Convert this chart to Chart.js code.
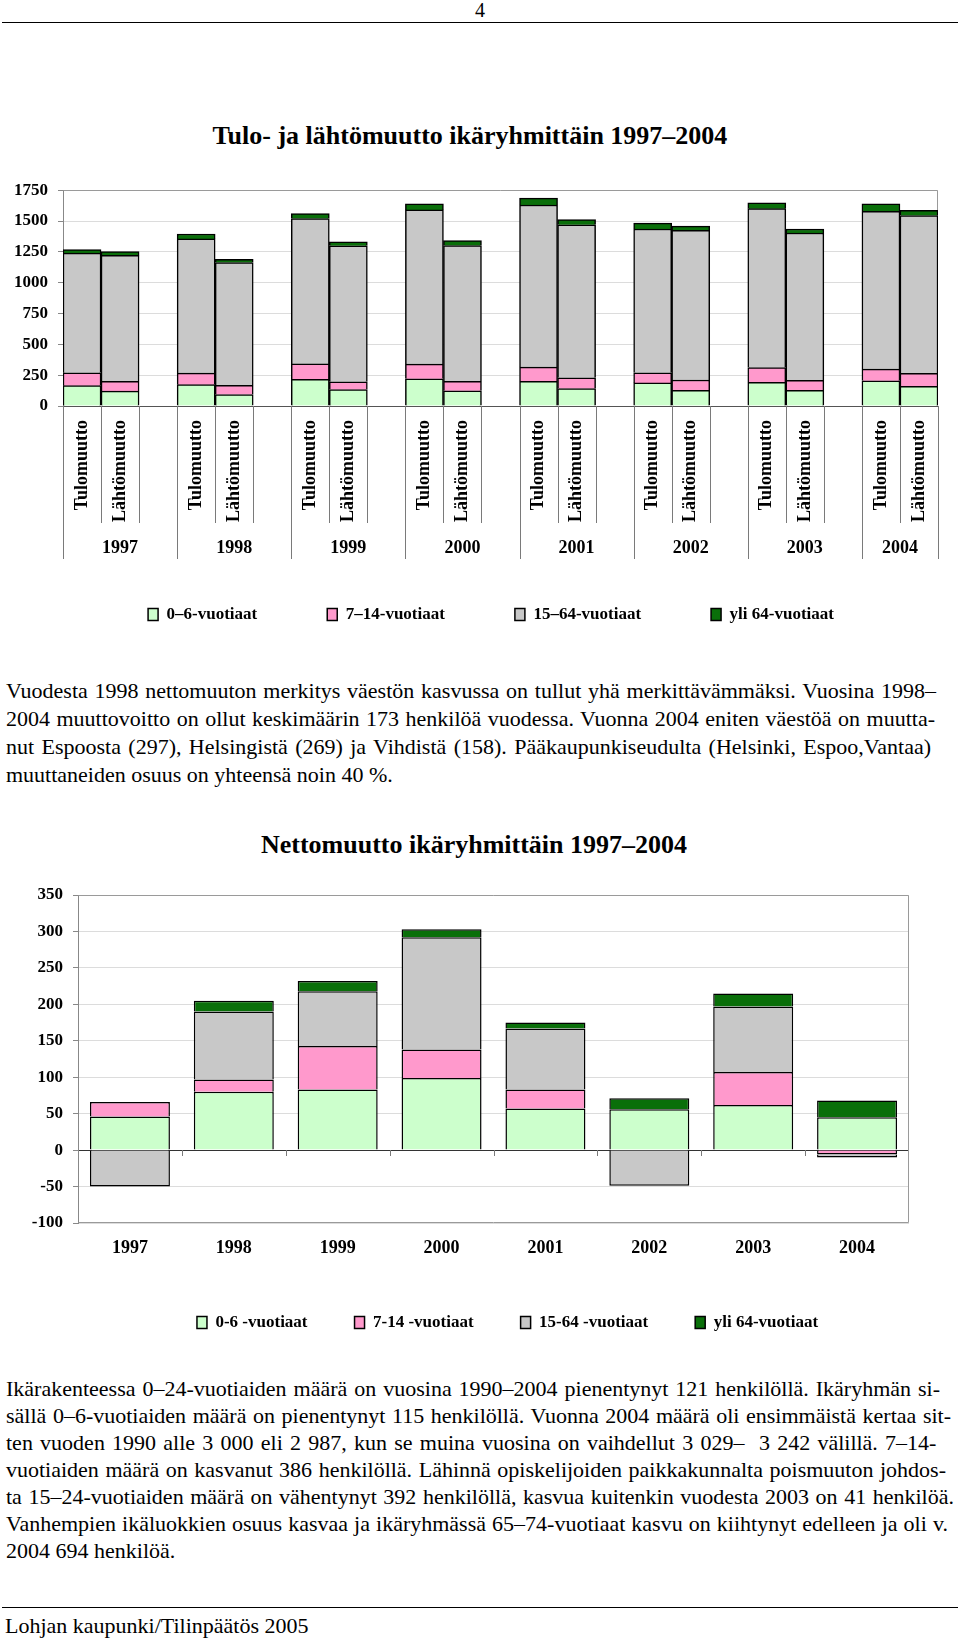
<!DOCTYPE html>
<html lang="fi">
<head>
<meta charset="utf-8">
<title>Tulo- ja lähtömuutto ikäryhmittäin 1997–2004</title>
<script src="https://cdn.jsdelivr.net/npm/chart.js@4.4.1/dist/chart.umd.min.js"></script>
<style>
  html, body { margin: 0; padding: 0; background: #fff; }
  #page { position: relative; width: 960px; height: 1639px; overflow: hidden;
          font-family: 'Liberation Serif', 'Times New Roman', serif; color: #000; }
  #page > * { position: absolute; }
  .pageno { left: 0; width: 960px; top: 0; font-size: 20px; line-height: 20px; text-align: center; }
  .rule { left: 2px; width: 956px; height: 0; border-top: 1.5px solid #000; }
  .title { left: 0; font-weight: bold; text-align: center; white-space: nowrap; line-height: 28px; }
  .ln { left: 6px; font-size: 22px; line-height: 28px; white-space: nowrap; }
  .footer { left: 5px; top: 1612px; font-size: 22px; line-height: 28px; }
  canvas { left: 0; }
</style>
</head>
<body>
<div id="page">
  <div class="pageno">4</div>
  <div class="rule" style="top:22px"></div>

  <div class="title" style="top:122px; width:940px; font-size:26px">Tulo- ja lähtömuutto ikäryhmittäin 1997–2004</div>
  <canvas id="chart1" width="960" height="463" style="top:170px"></canvas>

  <div class="ln" style="top:677px" data-w="930">Vuodesta 1998 nettomuuton merkitys väestön kasvussa on tullut yhä merkittävämmäksi. Vuosina 1998–</div>
  <div class="ln" style="top:705px" data-w="929">2004 muuttovoitto on ollut keskimäärin 173 henkilöä vuodessa. Vuonna 2004 eniten väestöä on muutta-</div>
  <div class="ln" style="top:733px" data-w="925">nut Espoosta (297), Helsingistä (269) ja Vihdistä (158). Pääkaupunkiseudulta (Helsinki, Espoo,Vantaa)</div>
  <div class="ln" style="top:761px">muuttaneiden osuus on yhteensä noin 40 %.</div>

  <div class="title" style="top:831px; width:948px; font-size:26px">Nettomuutto ikäryhmittäin 1997–2004</div>
  <canvas id="chart2" width="960" height="471" style="top:870px"></canvas>

  <div class="ln" style="top:1375px" data-w="934">Ikärakenteessa 0–24-vuotiaiden määrä on vuosina 1990–2004 pienentynyt 121 henkilöllä. Ikäryhmän si-</div>
  <div class="ln" style="top:1402px" data-w="945">sällä 0–6-vuotiaiden määrä on pienentynyt 115 henkilöllä. Vuonna 2004 määrä oli ensimmäistä kertaa sit-</div>
  <div class="ln" style="top:1429px" data-w="920">ten vuoden 1990 alle 3&nbsp;000 eli 2&nbsp;987, kun se muina vuosina on vaihdellut 3&nbsp;029–&nbsp;&nbsp;3&nbsp;242 välillä. 7–14-</div>
  <div class="ln" style="top:1456px" data-w="940">vuotiaiden määrä on kasvanut 386 henkilöllä. Lähinnä opiskelijoiden paikkakunnalta poismuuton johdos-</div>
  <div class="ln" style="top:1483px" data-w="948">ta 15–24-vuotiaiden määrä on vähentynyt 392 henkilöllä, kasvua kuitenkin vuodesta 2003 on 41 henkilöä.</div>
  <div class="ln" style="top:1510px" data-w="942">Vanhempien ikäluokkien osuus kasvaa ja ikäryhmässä 65–74-vuotiaat kasvu on kiihtynyt edelleen ja oli v.</div>
  <div class="ln" style="top:1537px">2004 694 henkilöä.</div>

  <div class="rule" style="top:1607px"></div>
  <div class="footer">Lohjan kaupunki/Tilinpäätös 2005</div>
</div>

<script>
"use strict";
// Vuodet ja sarjat
const years = ['1997', '1998', '1999', '2000', '2001', '2002', '2003', '2004'];
const moveTypes = ['Tulomuutto', 'Lähtömuutto'];
const ageLabels1 = ['0–6-vuotiaat', '7–14-vuotiaat', '15–64-vuotiaat', 'yli 64-vuotiaat'];
const ageLabels2 = ['0-6 -vuotiaat', '7-14 -vuotiaat', '15-64 -vuotiaat', 'yli 64-vuotiaat'];
const ageColors = ['#ccffcc', '#ff99cc', '#c8c8c8', '#0a6f0a'];

// Tulomuutto ikäryhmittäin
const tulo06 = [165, 173, 216, 221, 200, 187, 192, 205];
const tulo714 = [104, 94, 125, 118, 115, 82, 120, 94];
const tulo1564 = [971, 1088, 1179, 1251, 1315, 1166, 1288, 1280];
const tulo65 = [29, 40, 40, 50, 56, 48, 48, 61];
// Lähtömuutto ikäryhmittäin
const lahto06 = [120, 93, 133, 123, 141, 128, 128, 160];
const lahto714 = [80, 75, 64, 77, 88, 83, 80, 104];
const lahto1564 = [1021, 995, 1102, 1101, 1240, 1213, 1195, 1280];
const lahto65 = [32, 26, 32, 40, 43, 35, 32, 43];
// Nettomuutto ikäryhmittäin
const netto06 = [46, 80, 83, 99, 57, 56, 62, 45];
const netto714 = [20, 17, 60, 39, 26, 0, 45, -6];
const netto1564 = [-50, 93, 75, 154, 84, -49, 90, -4];
const netto65 = [0, 15, 14, 11, 8, 15, 18, 23];

const yTicks1 = [0, 250, 500, 750, 1000, 1250, 1500, 1750];
const yTicks2 = [-100, -50, 0, 50, 100, 150, 200, 250, 300, 350];

Chart.defaults.font.family = "'Liberation Serif', 'Times New Roman', serif";
Chart.defaults.color = '#000';
Chart.defaults.animation = false;

// Tasaa tekstirivit annettuun leveyteen sanavälejä säätämällä
document.querySelectorAll('.ln[data-w]').forEach(el => {
    const target = parseFloat(el.dataset.w);
    const natural = el.getBoundingClientRect().width;
    const spaces = (el.textContent.match(/ /g) || []).length;
    if (spaces > 0) el.style.wordSpacing = ((target - natural) / spaces) + 'px';
});

// Paikat: Tulo, Lähtö ja tyhjä väli jokaiselle vuodelle (paitsi viimeiselle)
const slotLabels = [];
years.forEach((y, i) => {
    moveTypes.forEach(m => slotLabels.push(m));
    if (i < years.length - 1) slotLabels.push('');
});
function interleave(tulo, lahto) {
    const out = [];
    years.forEach((y, i) => {
        out.push(tulo[i], lahto[i]);
        if (i < years.length - 1) out.push(null);
    });
    return out;
}

function makeFrame(sides) {
    return {
        id: 'frame',
        beforeDatasetsDraw(chart) {
            const { ctx, chartArea: a } = chart;
            const l = Math.round(a.left) + 0.5, r = Math.round(a.right) - 0.5;
            const t = Math.round(a.top) + 0.5, b = Math.round(a.bottom) - 0.5;
            ctx.save();
            ctx.strokeStyle = '#9a9a9a';
            ctx.lineWidth = 1;
            ctx.beginPath();
            if (sides.includes('top')) { ctx.moveTo(l, t); ctx.lineTo(r, t); }
            if (sides.includes('right')) { ctx.moveTo(r, t); ctx.lineTo(r, b); }
            if (sides.includes('bottom')) { ctx.moveTo(l, b); ctx.lineTo(r, b); }
            ctx.stroke();
            ctx.restore();
        }
    };
}

function legendShift(dx) {
    return {
        id: 'legendShift',
        afterLayout(chart) {
            chart.legend.left += dx;
            chart.legend.right += dx;
        }
    };
}

// Vuosiryhmien jakoviivat ja vuosiluvut x-akselin alle
const yearGroups = {
    id: 'yearGroups',
    afterDraw(chart) {
        const { ctx, chartArea, scales: { x } } = chart;
        const n = slotLabels.length;
        const w = (x.right - x.left) / n;
        ctx.save();
        ctx.strokeStyle = '#7a7a7a';
        ctx.lineWidth = 1;
        for (let i = 0; i <= n; i++) {
            const px = Math.round(x.left + i * w) + 0.5;
            const long = i % 3 === 0 || i === n;
            ctx.beginPath();
            ctx.moveTo(px, chartArea.bottom);
            ctx.lineTo(px, chartArea.bottom + (long ? 153 : 117));
            ctx.stroke();
        }
        ctx.font = "bold 18px 'Liberation Serif'";
        ctx.textAlign = 'center';
        ctx.textBaseline = 'middle';
        ctx.fillStyle = '#000';
        years.forEach((yr, g) => {
            const a = x.left + 3 * g * w;
            const b = x.left + Math.min(3 * g + 3, n) * w;
            ctx.fillText(yr, (a + b) / 2, chartArea.bottom + 142);
        });
        ctx.restore();
    }
};

// Pienet jakoviivat nollatasolle
const zeroTicks = {
    id: 'zeroTicks',
    afterDatasetsDraw(chart) {
        const { ctx, scales: { x, y } } = chart;
        const y0 = Math.round(y.getPixelForValue(0));
        const n = years.length;
        const w = (x.right - x.left) / n;
        ctx.save();
        ctx.strokeStyle = '#7a7a7a';
        ctx.lineWidth = 1;
        for (let i = 1; i < n; i++) {
            const px = Math.round(x.left + i * w) + 0.5;
            ctx.beginPath();
            ctx.moveTo(px, y0);
            ctx.lineTo(px, y0 + 6);
            ctx.stroke();
        }
        ctx.restore();
    }
};

const legendFont = { size: 17, weight: 'bold' };
const plainNumber = v => String(v);

new Chart(document.getElementById('chart1'), {
    type: 'bar',
    data: {
        labels: slotLabels,
        datasets: [
            { label: ageLabels1[0], data: interleave(tulo06, lahto06) },
            { label: ageLabels1[1], data: interleave(tulo714, lahto714) },
            { label: ageLabels1[2], data: interleave(tulo1564, lahto1564) },
            { label: ageLabels1[3], data: interleave(tulo65, lahto65) }
        ].map((d, i) => Object.assign(d, {
            backgroundColor: ageColors[i],
            borderColor: '#000',
            borderWidth: 1.5,
            barPercentage: 1,
            categoryPercentage: 1
        }))
    },
    options: {
        responsive: false,
        layout: { padding: { top: 17, right: 22, left: 0, bottom: 0 } },
        plugins: {
            legend: {
                position: 'bottom',
                labels: { boxWidth: 10, boxHeight: 12, padding: 70, font: legendFont, color: '#000' }
            },
            tooltip: { enabled: false }
        },
        scales: {
            x: {
                stacked: true,
                grid: { display: false, drawTicks: false, tickLength: 0 },
                border: { display: true, color: '#555', width: 1 },
                ticks: { autoSkip: false, minRotation: 90, maxRotation: 90, padding: 14,
                         font: { size: 18, weight: 'bold' }, color: '#000' },
                afterFit: s => { s.height = 130; }
            },
            y: {
                stacked: true,
                min: yTicks1[0],
                max: yTicks1[yTicks1.length - 1],
                afterBuildTicks: s => { s.ticks = yTicks1.map(v => ({ value: v })); },
                grid: { color: '#dcdcdc', tickColor: '#888', tickLength: 5 },
                border: { color: '#888' },
                ticks: { padding: 10, font: { size: 17, weight: 'bold' }, color: '#000', callback: plainNumber },
                afterFit: s => { s.width = 63; }
            }
        }
    },
    plugins: [makeFrame(['top', 'right']), yearGroups, legendShift(22)]
});

new Chart(document.getElementById('chart2'), {
    type: 'bar',
    data: {
        labels: years,
        datasets: [
            { label: ageLabels2[0], data: netto06 },
            { label: ageLabels2[1], data: netto714 },
            { label: ageLabels2[2], data: netto1564 },
            { label: ageLabels2[3], data: netto65 }
        ].map((d, i) => Object.assign(d, {
            backgroundColor: ageColors[i],
            borderColor: '#000',
            borderWidth: 1.5,
            barPercentage: 0.77,
            categoryPercentage: 1
        }))
    },
    options: {
        responsive: false,
        layout: { padding: { top: 25, right: 51, left: 0, bottom: 0 } },
        plugins: {
            legend: {
                position: 'bottom',
                labels: { boxWidth: 10, boxHeight: 12, padding: 47, font: legendFont, color: '#000' }
            },
            tooltip: { enabled: false }
        },
        scales: {
            x: {
                stacked: true,
                grid: { display: false, drawTicks: false, tickLength: 0 },
                border: { display: false },
                ticks: { padding: 15, font: { size: 18, weight: 'bold' }, color: '#000' },
                afterFit: s => { s.height = 44; }
            },
            y: {
                stacked: true,
                min: yTicks2[0],
                max: yTicks2[yTicks2.length - 1],
                afterBuildTicks: s => { s.ticks = yTicks2.map(v => ({ value: v })); },
                grid: {
                    color: c => (c.tick && c.tick.value === 0) ? '#333' : '#dcdcdc',
                    tickColor: '#888',
                    tickLength: 5
                },
                border: { color: '#888' },
                ticks: { padding: 10, font: { size: 17, weight: 'bold' }, color: '#000', callback: plainNumber },
                afterFit: s => { s.width = 78; }
            }
        }
    },
    plugins: [makeFrame(['top', 'right', 'bottom']), zeroTicks, legendShift(53)]
});
</script>
</body>
</html>
